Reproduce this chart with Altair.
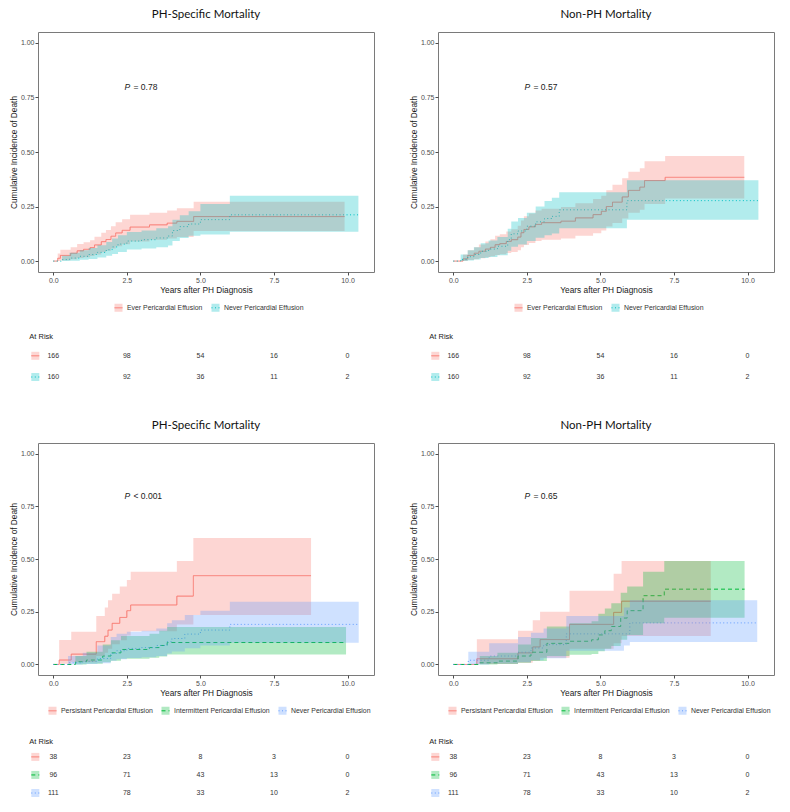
import altair as alt
import pandas as pd

# ---------------- data ----------------
X_DOMAIN = [-0.52, 10.9]
Y_DOMAIN = [-0.05, 1.05]
X_TICKS = [0, 2.5, 5, 7.5, 10]
Y_TICKS = [0, 0.25, 0.5, 0.75, 1.0]
RISK_TIMES = [0, 2.5, 5, 7.5, 10]

GROUPS_A = ["Ever Pericardial Effusion", "Never Pericardial Effusion"]
GROUPS_B = ["Persistant Pericardial Effusion", "Intermittent Pericardial Effusion",
            "Never Pericardial Effusion"]
COLORS_A = ["#F8766D", "#00BFC4"]
COLORS_B = ["#F8766D", "#00BA38", "#619CFF"]
DASH_A = [[1, 0], [1, 2.5]]
DASH_B = [[1, 0], [4, 3], [1, 2.5]]

TITLES = ["PH-Specific Mortality", "Non-PH Mortality", "PH-Specific Mortality", "Non-PH Mortality"]
PVAL_TEXT = ["= 0.78", "= 0.57", "< 0.001", "= 0.65"]
PVAL_X = 2.42
PVAL_Y = 0.80

# Top-left: PH-specific, Ever / Never
TL_EVER_T = [0, 0.15, 0.24, 0.59, 0.81, 1.03, 1.25, 1.40, 1.63, 1.79, 1.96, 2.12, 2.34, 2.61, 3.27, 3.87, 4.20, 4.77, 9.90]
TL_EVER_EST = [0, .013, .026, .036, .047, .054, .062, .074, .089, .099, .114, .129, .141, .156, .166, .174, .182, .204, .204]
TL_EVER_LO = [0, 0, .004, .008, .014, .018, .023, .030, .040, .047, .058, .068, .077, .090, .098, .104, .110, .138, .138]
TL_EVER_HI = [0, .035, .052, .064, .078, .086, .096, .112, .130, .142, .160, .178, .192, .212, .222, .232, .242, .272, .272]
TL_NEVER_T = [0, 0.3, 0.55, 0.9, 1.2, 1.5, 1.8, 2.0, 2.2, 2.5, 3.0, 3.5, 3.9, 4.05, 4.3, 4.6, 5.0, 6.0, 10.37]
TL_NEVER_EST = [0, .007, .014, .022, .030, .040, .052, .065, .078, .092, .098, .106, .115, .140, .158, .170, .190, .212, .212]
TL_NEVER_LO = [0, 0, .002, .006, .010, .016, .024, .033, .042, .053, .058, .064, .072, .092, .106, .116, .122, .135, .135]
TL_NEVER_HI = [0, .025, .038, .050, .060, .073, .088, .103, .118, .133, .140, .150, .160, .190, .210, .228, .262, .300, .300]

# Top-right: non-PH, Ever / Never
TR_EVER_T = [0, .33, .49, .71, .87, 1.09, 1.26, 1.42, 1.58, 1.80, 1.97, 2.19, 2.30, 2.40, 2.57, 2.79, 3.0, 3.66, 4.15, 4.75, 5.03, 5.2, 5.41, 5.74, 5.95, 6.34, 6.5, 7.2, 9.89]
TR_EVER_EST = [0, .010, .026, .036, .045, .055, .063, .075, .080, .090, .098, .110, .130, .145, .157, .168, .176, .183, .198, .213, .228, .250, .270, .294, .324, .339, .369, .384, .384]
TR_EVER_LO = [0, 0, .005, .009, .013, .018, .022, .028, .031, .037, .042, .050, .063, .074, .083, .092, .098, .104, .116, .128, .140, .158, .175, .195, .222, .235, .262, .287, .287]
TR_EVER_HI = [0, .030, .050, .064, .076, .090, .100, .116, .123, .136, .146, .162, .186, .205, .218, .232, .240, .248, .265, .285, .300, .325, .350, .380, .410, .425, .458, .482, .482]
TR_NEVER_T = [0, .25, .49, .7, .93, 1.2, 1.5, 1.85, 1.97, 2.2, 2.5, 2.8, 3.1, 3.35, 3.6, 5.9, 10.37]
TR_NEVER_EST = [0, .008, .020, .030, .045, .055, .068, .098, .125, .138, .160, .180, .195, .205, .235, .277, .277]
TR_NEVER_LO = [0, 0, .003, .007, .014, .019, .027, .047, .066, .076, .092, .107, .118, .126, .150, .190, .190]
TR_NEVER_HI = [0, .030, .050, .064, .082, .094, .110, .148, .182, .198, .222, .250, .275, .290, .315, .370, .370]

# Bottom-left: PH-specific, Persistent / Intermittent / Never
BL_PERS_T = [0, .2, .61, 1.46, 1.75, 1.86, 2.0, 2.26, 2.5, 2.63, 4.2, 4.76, 8.76]
BL_PERS_EST = [0, .021, .049, .108, .134, .163, .195, .223, .255, .282, .324, .421, .421]
BL_PERS_LO = [0, .003, .012, .040, .056, .075, .096, .115, .137, .158, .190, .234, .234]
BL_PERS_HI = [0, .116, .155, .230, .270, .305, .335, .370, .400, .440, .490, .600, .600]
BL_INT_T = [0, .75, 1.13, 1.68, 1.96, 2.3, 3.27, 3.6, 3.87, 9.95]
BL_INT_EST = [0, .013, .021, .040, .055, .071, .080, .090, .104, .104]
BL_INT_LO = [0, 0, .003, .010, .018, .027, .032, .038, .047, .047]
BL_INT_HI = [0, .040, .060, .095, .115, .135, .145, .160, .178, .178]
BL_NEV_T = [0, .5, 1.0, 1.5, 1.95, 2.15, 2.5, 3.0, 3.5, 3.87, 4.03, 4.47, 5.0, 6.0, 10.38]
BL_NEV_EST = [0, .008, .015, .028, .052, .065, .076, .080, .090, .108, .123, .144, .163, .190, .190]
BL_NEV_LO = [0, 0, .002, .006, .017, .025, .031, .034, .040, .052, .062, .077, .090, .103, .103]
BL_NEV_HI = [0, .040, .055, .090, .130, .145, .155, .160, .170, .195, .210, .235, .255, .297, .297]

# Bottom-right: non-PH, Persistent / Intermittent / Never
BR_PERS_T = [0, .8, 2.2, 2.7, 2.95, 3.95, 5.45, 5.72, 8.75]
BR_PERS_EST = [0, .027, .055, .083, .118, .190, .247, .300, .300]
BR_PERS_LO = [0, .002, .008, .018, .032, .075, .100, .135, .135]
BR_PERS_HI = [0, .120, .160, .210, .250, .350, .430, .490, .490]
BR_INT_T = [0, .9, 1.5, 2.2, 2.64, 3.18, 3.95, 4.7, 4.93, 5.15, 5.37, 5.69, 5.91, 6.45, 7.17, 9.9]
BR_INT_EST = [0, .008, .016, .040, .058, .100, .110, .117, .140, .160, .180, .220, .255, .326, .357, .357]
BR_INT_LO = [0, 0, .002, .008, .016, .040, .046, .050, .063, .075, .088, .117, .140, .195, .222, .222]
BR_INT_HI = [0, .040, .055, .095, .125, .180, .195, .205, .240, .265, .290, .340, .370, .440, .490, .490]
BR_NEV_T = [0, .51, 1.22, 2.2, 2.64, 3.07, 3.84, 5.8, 6.0, 10.33]
BR_NEV_EST = [0, .020, .040, .058, .078, .094, .145, .145, .197, .197]
BR_NEV_LO = [0, 0, .005, .010, .020, .030, .065, .090, .106, .106]
BR_NEV_HI = [0, .060, .100, .130, .150, .170, .230, .270, .305, .305]

# Numbers at risk
RISK_A = [[166, 98, 54, 16, 0], [160, 92, 36, 11, 2]]
RISK_B = [[38, 23, 8, 3, 0], [96, 71, 43, 13, 0], [111, 78, 33, 10, 2]]

# ---------------- styling ----------------
W = 336
FONT = "Liberation Sans"
TITLE_FONT = "Lato"
SQUARE_PATH = "M-1,-1H1V1H-1Z"
LINE_PATH = "M-1,0H1"


def xenc(field, axis=True):
    return alt.X(field, type="quantitative",
                 scale=alt.Scale(domain=X_DOMAIN, nice=False, zero=False),
                 axis=alt.Axis(values=X_TICKS, format=".1f", title="Years after PH Diagnosis") if axis else None)


def yenc(field):
    return alt.Y(field, type="quantitative",
                 scale=alt.Scale(domain=Y_DOMAIN, nice=False, zero=False),
                 axis=alt.Axis(values=Y_TICKS, format=".2f", title="Cumulative Incidence of Death"))


def km_plot(title, groups, colors, dashes, curves, ptext, height, legend_x):
    rows = []
    for g, (ts, est, lo, hi) in zip(groups, curves):
        for t, e, l, h in zip(ts, est, lo, hi):
            rows.append({"group": g, "fillgroup": g, "t": t, "est": e, "lo": l, "hi": h})
    df = pd.DataFrame(rows)

    leg = dict(orient="none", legendX=legend_x, legendY=height + 31, direction="horizontal",
               title=None, symbolSize=64, symbolStrokeWidth=1, labelFontSize=6.9,
               labelFont=FONT, labelColor="#333333", labelOffset=4, columnPadding=6,
               padding=0)
    # line glyphs drawn over the band squares of the visible legend
    line_leg = alt.Legend(symbolType=LINE_PATH, labelOpacity=0, **leg)

    lines = alt.Chart(df).mark_line(interpolate="step-after", strokeWidth=1).encode(
        x=xenc("t"), y=yenc("est"),
        stroke=alt.Stroke("group:N", scale=alt.Scale(domain=groups, range=colors), legend=line_leg),
        strokeDash=alt.StrokeDash("group:N", scale=alt.Scale(domain=groups, range=dashes), legend=line_leg),
    )
    bands = alt.Chart(df).mark_area(interpolate="step-after", opacity=0.3).encode(
        x=xenc("t"), y=yenc("lo"), y2="hi:Q",
        fill=alt.Fill("fillgroup:N", sort=groups, scale=alt.Scale(range=colors),
                      legend=alt.Legend(symbolType=SQUARE_PATH, symbolStrokeColor="transparent",
                                        symbolOpacity=0.3, **leg)),
    )
    pdf = pd.DataFrame({"x": [PVAL_X], "y": [PVAL_Y], "p": ["P"], "rest": [ptext]})
    p1 = alt.Chart(pdf).mark_text(align="left", baseline="middle", fontStyle="italic",
                                  fontSize=8.5, font=FONT, color="#1a1a1a").encode(
        x=xenc("x"), y=yenc("y"), text="p:N")
    p2 = alt.Chart(pdf).mark_text(align="left", baseline="middle", fontSize=8.5, font=FONT,
                                  color="#1a1a1a", dx=9).encode(
        x=xenc("x"), y=yenc("y"), text="rest:N")

    return alt.layer(lines, bands, p1, p2).properties(
        width=W, height=height,
        title=alt.TitleParams(title, font=TITLE_FONT, fontSize=11.5, fontWeight="normal",
                              color="#111111", offset=12),
    )


def risk_table(groups, colors, dashes, counts, height, pad, title_offset):
    rows = [{"group": g, "t": t, "n": n}
            for g, c in zip(groups, counts) for t, n in zip(RISK_TIMES, c)]
    df = pd.DataFrame(rows)
    sym = pd.DataFrame({"group": groups, "t": [RISK_TIMES[0]] * len(groups)})
    y = alt.Y("group:N", scale=alt.Scale(domain=groups, padding=pad, align=1), axis=None)

    squares = alt.Chart(sym).mark_square(size=64, opacity=0.3, xOffset=-18).encode(
        x=xenc("t", axis=False), y=y,
        color=alt.Color("group:N", scale=alt.Scale(domain=groups, range=colors), legend=None))
    glyphs = alt.Chart(sym).mark_point(shape=LINE_PATH, size=64, strokeWidth=1, filled=False,
                                       opacity=1, xOffset=-18).encode(
        x=xenc("t", axis=False), y=y,
        stroke=alt.Stroke("group:N", scale=alt.Scale(domain=groups, range=colors), legend=None),
        strokeDash=alt.StrokeDash("group:N", scale=alt.Scale(domain=groups, range=dashes), legend=None))
    nums = alt.Chart(df).mark_text(fontSize=7, font=FONT, color="#333333").encode(
        x=xenc("t", axis=False), y=y, text="n:Q")

    return alt.layer(squares, glyphs, nums).properties(
        width=W, height=height,
        title=alt.TitleParams("At Risk", anchor="start", fontSize=7.5, font=FONT,
                              fontWeight="normal", color="#222222", offset=title_offset),
        view=alt.ViewBackground(strokeOpacity=0),
    )


H_TOP = 240
H_BOT = 232

tl = km_plot(TITLES[0], GROUPS_A, COLORS_A, DASH_A,
             [(TL_EVER_T, TL_EVER_EST, TL_EVER_LO, TL_EVER_HI),
              (TL_NEVER_T, TL_NEVER_EST, TL_NEVER_LO, TL_NEVER_HI)], PVAL_TEXT[0], H_TOP, 76)
tr = km_plot(TITLES[1], GROUPS_A, COLORS_A, DASH_A,
             [(TR_EVER_T, TR_EVER_EST, TR_EVER_LO, TR_EVER_HI),
              (TR_NEVER_T, TR_NEVER_EST, TR_NEVER_LO, TR_NEVER_HI)], PVAL_TEXT[1], H_TOP, 76)
bl = km_plot(TITLES[2], GROUPS_B, COLORS_B, DASH_B,
             [(BL_PERS_T, BL_PERS_EST, BL_PERS_LO, BL_PERS_HI),
              (BL_INT_T, BL_INT_EST, BL_INT_LO, BL_INT_HI),
              (BL_NEV_T, BL_NEV_EST, BL_NEV_LO, BL_NEV_HI)], PVAL_TEXT[2], H_BOT, 10)
br = km_plot(TITLES[3], GROUPS_B, COLORS_B, DASH_B,
             [(BR_PERS_T, BR_PERS_EST, BR_PERS_LO, BR_PERS_HI),
              (BR_INT_T, BR_INT_EST, BR_INT_LO, BR_INT_HI),
              (BR_NEV_T, BR_NEV_EST, BR_NEV_LO, BR_NEV_HI)], PVAL_TEXT[3], H_BOT, 10)

tl_t = risk_table(GROUPS_A, COLORS_A, DASH_A, RISK_A, 39, 0.42, -2)
tr_t = risk_table(GROUPS_A, COLORS_A, DASH_A, RISK_A, 39, 0.42, -2)
bl_t = risk_table(GROUPS_B, COLORS_B, DASH_B, RISK_B, 52, 0.44, -4)
br_t = risk_table(GROUPS_B, COLORS_B, DASH_B, RISK_B, 52, 0.44, -4)

chart = alt.concat(tl, tr, tl_t, tr_t, bl, br, bl_t, br_t, columns=2,
                   spacing=alt.RowColnumber(row=66, column=64), bounds="flush")
chart = chart.resolve_scale(
    x="independent", y="independent", color="independent", fill="independent",
    stroke="independent", strokeDash="independent",
).properties(
    padding={"left": 0, "top": 0, "right": 2, "bottom": 0},
).configure_view(
    stroke="#7a7a7a", strokeWidth=1,
).configure_axis(
    domain=False, grid=False,
    labelFont=FONT, labelFontSize=7, labelColor="#4d4d4d", labelPadding=1,
    tickColor="#4d4d4d", tickSize=3,
    titleFont=FONT, titleFontSize=8.3, titleFontWeight="normal", titleColor="#1a1a1a",
    titlePadding=2,
)

chart.save("out.html", embed_options={"renderer": "svg", "actions": False})
